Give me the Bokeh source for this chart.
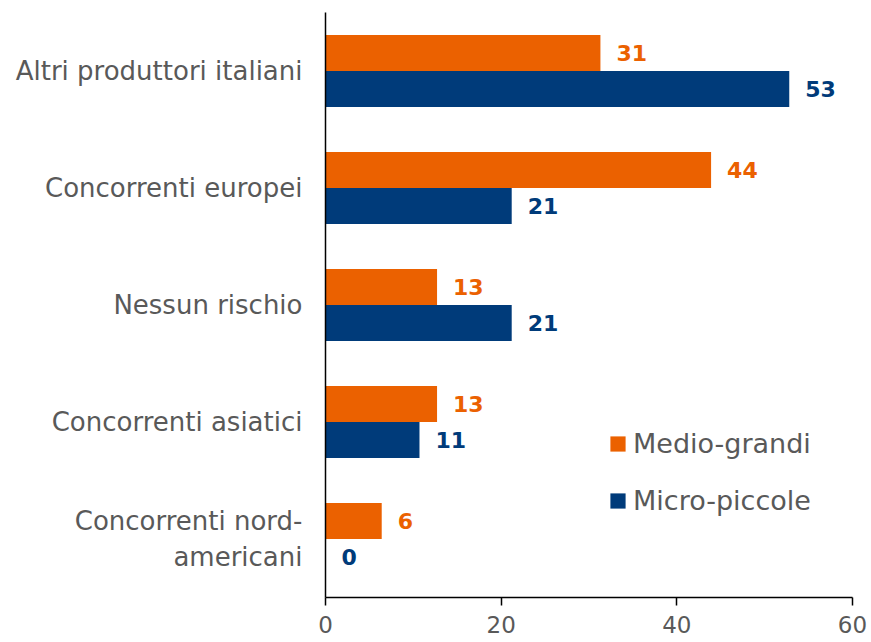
from bokeh.plotting import figure
from bokeh.models import ColumnDataSource, FactorRange, Range1d, Legend, LegendItem, FixedTicker
from bokeh.transform import dodge
from bokeh.core.properties import value
from bokeh.embed import file_html
from bokeh.resources import INLINE

categories = ["Altri produttori italiani", "Concorrenti europei", "Nessun rischio",
              "Concorrenti asiatici", "Concorrenti nord-\namericani"]
medio_grandi = [31.3, 43.9, 12.7, 12.7, 6.4]
micro_piccole = [52.8, 21.2, 21.2, 10.7, 0.0]
labels_mg = ["31", "44", "13", "13", "6"]
labels_mp = ["53", "21", "21", "11", "0"]
x_ticks = [0, 20, 40, 60]
series_names = ["Medio-grandi", "Micro-piccole"]

ORANGE = "#EB6100"
BLUE = "#003B7A"
GRAY = "#595959"
FONT = "DejaVu Sans"

src = ColumnDataSource(dict(cat=categories, mg=medio_grandi, mp=micro_piccole,
                            lmg=labels_mg, lmp=labels_mp))

p = figure(width=871, height=642, frame_width=527, frame_height=585,
           y_range=FactorRange(*list(reversed(categories)), range_padding=0),
           x_range=Range1d(0, 60), output_backend="svg", toolbar_location=None,
           min_border_left=325, min_border_top=12, min_border_right=19, min_border_bottom=45)
p.outline_line_color = None
p.grid.grid_line_color = None
p.background_fill_color = "white"

off = 0.154
h = 0.308
r1 = p.hbar(y=dodge("cat", off, range=p.y_range), right="mg", left=0, height=h,
            source=src, fill_color=ORANGE, line_color=None)
r2 = p.hbar(y=dodge("cat", -off, range=p.y_range), right="mp", left=0, height=h,
            source=src, fill_color=BLUE, line_color=None)

p.text(x="mg", y=dodge("cat", off, range=p.y_range), text="lmg", source=src,
       x_offset=16, text_baseline="middle", text_align="left",
       text_color=ORANGE, text_font=value(FONT), text_font_style="bold",
       text_font_size="22px")
p.text(x="mp", y=dodge("cat", -off, range=p.y_range), text="lmp", source=src,
       x_offset=16, text_baseline="middle", text_align="left",
       text_color=BLUE, text_font=value(FONT), text_font_style="bold",
       text_font_size="22px")

# axes
p.xaxis.ticker = FixedTicker(ticks=x_ticks)
p.xaxis.axis_line_color = "black"
p.xaxis.axis_line_width = 1.5
p.xaxis.major_tick_line_color = "black"
p.xaxis.major_tick_line_width = 1.5
p.xaxis.major_tick_out = 8
p.xaxis.major_tick_in = 0
p.xaxis.minor_tick_line_color = None
p.xaxis.major_label_text_font = FONT
p.xaxis.major_label_text_font_size = "23px"
p.xaxis.major_label_text_color = GRAY
p.xaxis.major_label_standoff = 10

p.yaxis.axis_line_color = "black"
p.yaxis.axis_line_width = 1.5
p.yaxis.major_tick_line_color = None
p.yaxis.major_tick_out = 0
p.yaxis.major_tick_in = 0
p.yaxis.minor_tick_line_color = None
p.yaxis.major_label_text_font = FONT
p.yaxis.major_label_text_font_size = "26px"
p.yaxis.major_label_text_color = GRAY
p.yaxis.major_label_standoff = 23

legend = Legend(items=[LegendItem(label=series_names[0], renderers=[r1]),
                       LegendItem(label=series_names[1], renderers=[r2])],
                location=(283, 81), orientation="vertical",
                glyph_width=19, glyph_height=19, label_standoff=6, spacing=26,
                padding=0, margin=0, border_line_color=None, background_fill_alpha=0,
                label_text_font=FONT, label_text_font_size="27px", label_text_color=GRAY)
p.add_layout(legend, "center")

open("out.html", "w").write(file_html(p, INLINE))
